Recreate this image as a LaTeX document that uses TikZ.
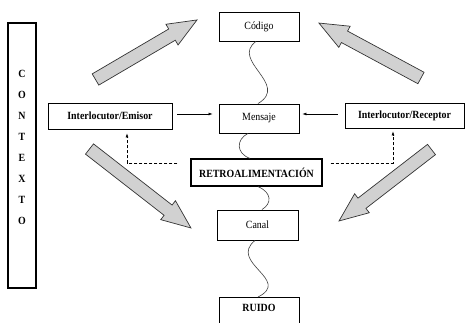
\documentclass[tikz,border=0pt]{standalone}
\usepackage{fontspec}
\setmainfont{Liberation Serif}[FakeStretch=0.9]
\usetikzlibrary{arrows.meta,calc}
\begin{document}
\begin{tikzpicture}[x=1pt,y=-1pt,
 box/.style={draw, line width=0.9pt, inner sep=0pt, font=\fontsize{11}{13}\selectfont},
 bbox/.style={box, font=\bfseries\fontsize{11}{13}\selectfont},
 wave/.style={draw=black!75, line width=0.6pt},
 conn/.style={line width=0.6pt, -{Latex[length=4pt,width=3pt]}},
 dconn/.style={conn, dash pattern=on 3pt off 2pt},
 bigarrow/.style={draw=black!80, fill=black!18, line width=0.7pt, line join=miter}]
\useasboundingbox (0,0) rectangle (467,323);
\clip (0,0) rectangle (467,323);
% block arrows
\draw[bigarrow, shift={(95.5,79.5)}, rotate=30.4]
  (0,-6.5) -- (88.7,-6.5) -- (88.7,-12) -- (117.7,0) -- (88.7,12) -- (88.7,6.5) -- (0,6.5) -- cycle;
\draw[bigarrow, shift={(421,78)}, rotate=151.7]
  (0,-6.5) -- (86.9,-6.5) -- (86.9,-12) -- (115.9,0) -- (86.9,12) -- (86.9,6.5) -- (0,6.5) -- cycle;
\draw[bigarrow, shift={(89.5,149)}, rotate=-37.9]
  (0,-6.5) -- (99.6,-6.5) -- (99.6,-12) -- (128.6,0) -- (99.6,12) -- (99.6,6.5) -- (0,6.5) -- cycle;
\draw[bigarrow, shift={(431.5,149.5)}, rotate=217.7]
  (0,-6.5) -- (87.9,-6.5) -- (87.9,-12) -- (116.9,0) -- (87.9,12) -- (87.9,6.5) -- (0,6.5) -- cycle;
% nodes
\node[box, line width=1.1pt, minimum width=28, minimum height=265] (ctxbox) at (22,155.5) {};
\node[font=\bfseries\fontsize{11}{21}\selectfont, align=center] (ctx) at (22,147) {C\\O\\N\\T\\E\\X\\T\\O};
\node[box, minimum width=80, minimum height=29] (cod) at (259,26.5) {Código};
\node[box, minimum width=80, minimum height=29] (men) at (259,118.5) {Mensaje};
\node[bbox, minimum width=124, minimum height=26] (emi) at (110,116) {Interlocutor/Emisor};
\node[bbox, minimum width=119, minimum height=25] (rec) at (404.5,115.5) {Interlocutor/Receptor};
\node[bbox, line width=1.2pt, minimum width=131, minimum height=27] (ret) at (256.5,172.5) {RETROALIMENTACIÓN};
\node[box, minimum width=81, minimum height=30] (can) at (257.5,225) {Canal};
\node[box, minimum width=80, minimum height=40, anchor=north] (rui) at (259,297) {};
\node[font=\bfseries\fontsize{11}{13}\selectfont] (ruit) at (259,308) {RUIDO};
% solid connectors
\draw[conn] ($(emi.east)+(5,-2)$) -- ($(men.west)+(-6,-4.5)$);
\draw[conn] ($(rec.west)+(-7,-1.5)$) -- ($(men.east)+(3,-4.5)$);
% dashed feedback
\coordinate (dl) at ($(ret.west)+(-13,-9.5)$);
\coordinate (dr) at ($(ret.east)+(8,-9.5)$);
\draw[dconn] (dl) -| ($(emi.south)+(17,4)$);
\draw[dconn] (dr) -| ($(rec.south)+(-11.5,3)$);
% wavy links
\draw[wave] ($(cod.south)+(-3,0)$) .. controls +(-26,19) and +(32,-19) .. ($(men.north)+(-1,0)$);
\draw[wave] ($(men.south)+(-11,0)$) .. controls +(-12,6) and +(-14,-5) .. ($(ret.north)+(-6.5,0)$);
\draw[wave] ($(ret.south)+(1.5,0)$) .. controls +(14,6) and +(10,-6) .. ($(can.north)+(4.5,0)$);
\draw[wave] ($(can.south)+(-2.5,0)$) .. controls +(-27,22) and +(34,-17) .. ($(rui.north)+(-1,0)$);
\end{tikzpicture}
\end{document}
